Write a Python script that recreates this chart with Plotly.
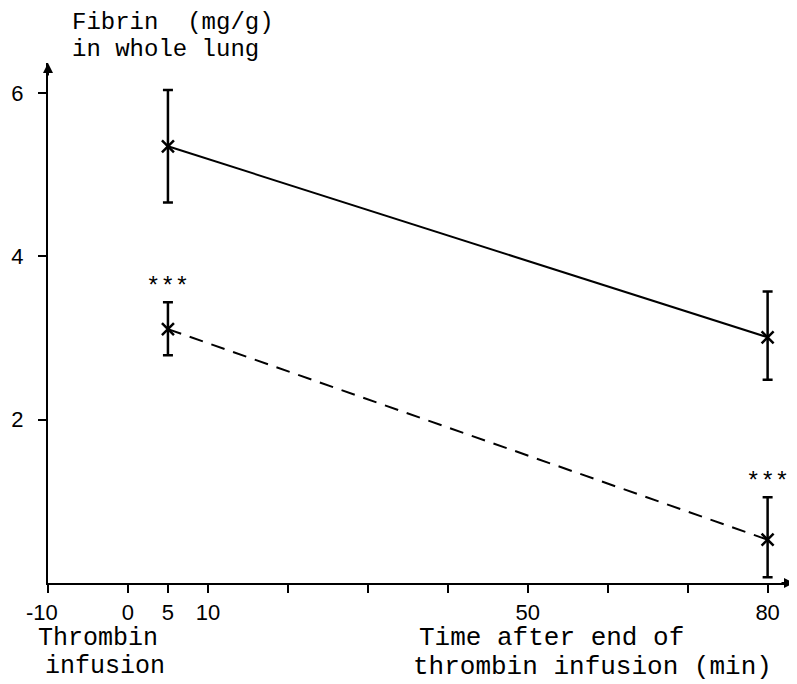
import plotly.graph_objects as go

# Data
time_min = [5, 80]
fibrin_solid = [5.35, 3.01]
solid_err_plus = [0.69, 0.56]
solid_err_minus = [0.69, 0.52]
fibrin_dashed = [3.11, 0.53]
dashed_err_plus = [0.33, 0.52]
dashed_err_minus = [0.32, 0.46]
sig_labels = ["***", "***"]
sig_y = [3.62, 1.23]

x_tickvals = [-10, 0, 5, 10, 20, 30, 40, 50, 60, 70, 80]
x_ticktext = ["-10\u00a0\u00a0", "0", "5", "10", "", "", "", "50", "", "", "80"]
y_tickvals = [2, 4, 6]
y_ticktext = ["2", "4", "6"]

mono = "Liberation Mono"
tickfont = dict(family="Liberation Sans", size=22, color="black")

# page has an 8px body margin
OFF = 8
W, H = 797 - OFF, 684 - OFF
ml, mr, mt, mb = 38, 3, 55, 101
pw, ph = W - ml - mr, H - mt - mb

fig = go.Figure()

fig.add_trace(go.Scatter(
    x=time_min, y=fibrin_solid, mode="lines+markers",
    line=dict(color="black", width=2),
    marker=dict(symbol="x-thin", size=12, line=dict(color="black", width=2.5)),
    error_y=dict(type="data", symmetric=False, array=solid_err_plus,
                 arrayminus=solid_err_minus, color="black", thickness=2.5, width=5),
    showlegend=False, cliponaxis=False,
))
fig.add_trace(go.Scatter(
    x=time_min, y=fibrin_dashed, mode="lines+markers",
    line=dict(color="black", width=2, dash="14px,9px"),
    marker=dict(symbol="x-thin", size=12, line=dict(color="black", width=2.5)),
    error_y=dict(type="data", symmetric=False, array=dashed_err_plus,
                 arrayminus=dashed_err_minus, color="black", thickness=2.5, width=5),
    showlegend=False, cliponaxis=False,
))

for xv, yv, t in zip(time_min, sig_y, sig_labels):
    fig.add_annotation(x=xv, y=yv, xref="x", yref="y", text=t, showarrow=False,
                       font=dict(family=mono, size=24, color="black"))

# axis arrows
fig.add_annotation(x=1, y=0, xref="paper", yref="paper", ax=-14, ay=0,
                   showarrow=True, arrowhead=2, arrowsize=1, arrowwidth=2,
                   arrowcolor="black", text="")
fig.add_annotation(x=0, y=1, xref="paper", yref="paper", ax=0, ay=14,
                   showarrow=True, arrowhead=2, arrowsize=1, arrowwidth=2,
                   arrowcolor="black", text="")

# text labels: (text, left px, center y px, size) in page pixels
labels = [
    ("Fibrin  (mg/g)", 68, 22, 24),
    ("in whole lung", 68, 49, 24),
    ("Thrombin", 34, 638, 25),
    ("infusion", 41, 666, 25),
    ("Time after end of", 416, 638, 26),
    ("thrombin infusion (min)", 410, 667, 26),
]
for txt, px, py, sz in labels:
    fig.add_annotation(
        x=(px - OFF - ml) / pw, y=1 - (py - OFF - mt) / ph,
        xref="paper", yref="paper",
        xanchor="left", yanchor="middle", align="left", text=txt,
        showarrow=False, font=dict(family=mono, size=sz, color="black"),
    )

fig.update_xaxes(
    range=[-10, 83.3], showgrid=False, zeroline=False,
    showline=True, linecolor="black", linewidth=2,
    tickvals=x_tickvals, ticktext=x_ticktext, ticks="outside",
    ticklen=8, tickwidth=2, tickcolor="black", tickfont=tickfont,
    ticklabelstandoff=1,
)
fig.update_yaxes(
    range=[0, 6.37], showgrid=False, zeroline=False,
    showline=True, linecolor="black", linewidth=2,
    tickvals=y_tickvals, ticktext=y_ticktext, ticks="outside",
    ticklen=8, tickwidth=2, tickcolor="black", tickfont=tickfont,
    ticklabelstandoff=10,
)
fig.update_layout(
    width=W, height=H, margin=dict(l=ml, r=mr, t=mt, b=mb),
    plot_bgcolor="white", paper_bgcolor="white",
)

fig.write_html("out.html")
